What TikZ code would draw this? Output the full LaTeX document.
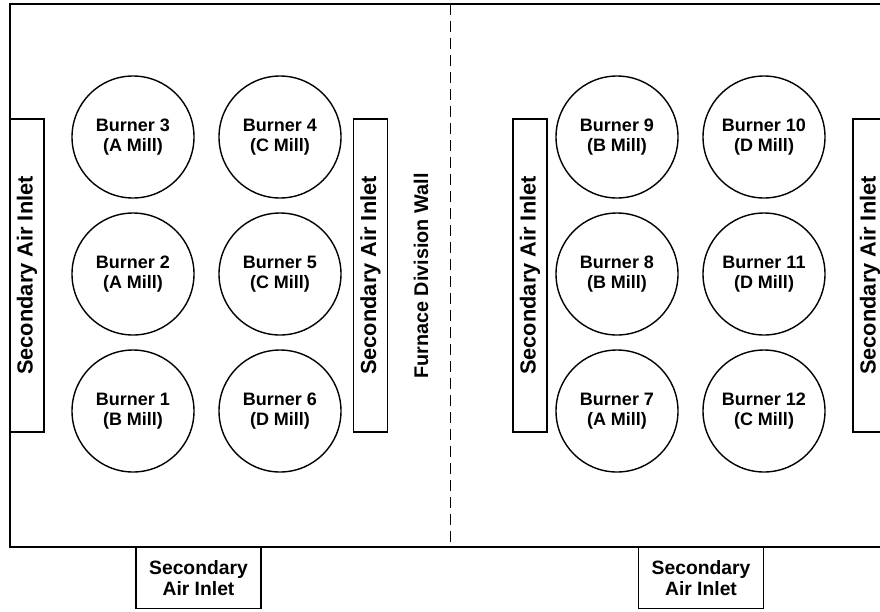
\documentclass[tikz,border=0pt]{standalone}
\usepackage{fontspec}
\setmainfont{Liberation Sans}
\begin{document}
\begin{tikzpicture}[x=1pt,y=-1pt,
        burner/.style={draw, circle, line width=1.4pt, minimum size=122pt, inner sep=0pt,
          align=center, font=\fontsize{18}{20}\selectfont\bfseries},
        side inlet/.style={draw, rectangle, rotate=90, line width=1.4pt, minimum width=313pt,
          minimum height=34pt, inner sep=0pt, font=\fontsize{21.8}{24}\selectfont\bfseries},
        bottom inlet/.style={draw, rectangle, anchor=north, line width=1.4pt, minimum width=125pt,
          minimum height=61pt, inner sep=0pt, align=center, font=\fontsize{19.3}{21}\selectfont\bfseries}]
        \useasboundingbox (0,0) rectangle (880,611);
        \clip (0,0) rectangle (880,611);

        % furnace outline and division wall
        \draw[line width=2pt] (10,4) rectangle (892,547);
        \coordinate (wall top) at (450,4);
        \coordinate (wall bottom) at (450,547);
        \draw[line width=0.9pt, dash pattern=on 11pt off 6pt] (wall top) -- (wall bottom);
        \node[rotate=90, font=\fontsize{19.8}{22}\selectfont\bfseries] (wall) at (421,276) {Furnace Division Wall};

        % left furnace
        \begin{scope}
          \node[side inlet] (sa1) at (27,275.5) {Secondary Air Inlet};
          \node[side inlet] (sa2) at (370.5,275.5) {Secondary Air Inlet};

          \node[burner] (b3) at (133,137) {Burner 3\\(A Mill)};
          \node[burner] (b2) at (133,274) {Burner 2\\(A Mill)};
          \node[burner] (b1) at (133,411) {Burner 1\\(B Mill)};
          \node[burner] (b4) at (280,137) {Burner 4\\(C Mill)};
          \node[burner] (b5) at (280,274) {Burner 5\\(C Mill)};
          \node[burner] (b6) at (280,411) {Burner 6\\(D Mill)};

          \node[bottom inlet] (sa5) at (198.5,547) {Secondary\\Air Inlet};
        \end{scope}

        % right furnace
        \begin{scope}
          \node[side inlet] (sa3) at (530,275.5) {Secondary Air Inlet};
          \node[side inlet] (sa4) at (870,275.5) {Secondary Air Inlet};

          \node[burner] (b9) at (617,137) {Burner 9\\(B Mill)};
          \node[burner] (b8) at (617,274) {Burner 8\\(B Mill)};
          \node[burner] (b7) at (617,411) {Burner 7\\(A Mill)};
          \node[burner] (b10) at (764,137) {Burner 10\\(D Mill)};
          \node[burner] (b11) at (764,274) {Burner 11\\(D Mill)};
          \node[burner] (b12) at (764,411) {Burner 12\\(C Mill)};

          \node[bottom inlet] (sa6) at (701,547) {Secondary\\Air Inlet};
        \end{scope}
      \end{tikzpicture}
\end{document}
